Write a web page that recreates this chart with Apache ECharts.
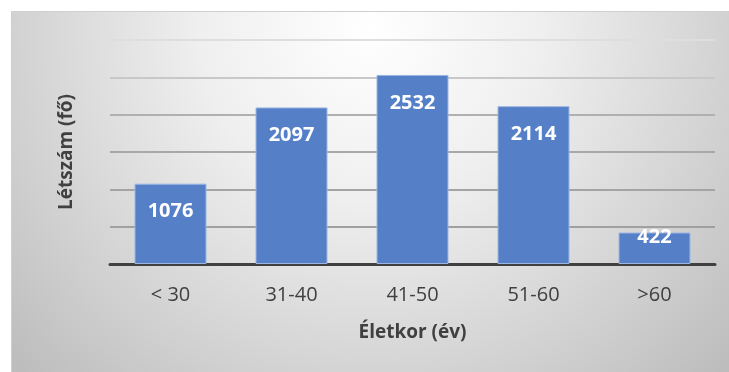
<!DOCTYPE html>
<html>
<head>
<meta charset="utf-8">
<script src="https://cdn.jsdelivr.net/npm/echarts@6/dist/echarts.min.js"></script>
<style>
html,body{margin:0;padding:0;background:#ffffff;}
#chart{width:729px;height:372px;}
</style>
</head>
<body>
<div id="chart"></div>
<script>
const categories = ['< 30', '31-40', '41-50', '51-60', '>60'];
const values = [1076, 2097, 2532, 2114, 422];
const xTitle = 'Életkor (év)';
const yTitle = 'Létszám (fő)';

const font = '"Open Sans", "DejaVu Sans", sans-serif';
const chart = echarts.init(document.getElementById('chart'));

const seriesData = values.map(function (v) {
  const item = { value: v };
  if (v < 600) {
    item.label = { distance: -5 };
  }
  return item;
});

chart.setOption({
  animation: false,
  backgroundColor: '#ffffff',
  graphic: [{
    type: 'rect',
    left: 11, top: 11, z: -10,
    shape: { width: 718, height: 361 },
    style: {
      fill: new echarts.graphic.RadialGradient(0.5, 0.05, 1.35, [
        { offset: 0, color: '#ffffff' },
        { offset: 0.35, color: '#efefef' },
        { offset: 1, color: '#bdbdbd' }
      ]),
      stroke: '#cfcfcf',
      lineWidth: 1
    },
    silent: true
  }],
  grid: { left: 110, right: 14, top: 40, bottom: 108, containLabel: false },
  xAxis: {
    type: 'category',
    data: categories,
    name: xTitle,
    nameLocation: 'middle',
    nameGap: 59,
    nameTextStyle: { fontFamily: font, fontSize: 19, fontWeight: 'bold', color: '#404040' },
    axisLine: { show: true, lineStyle: { color: '#404040', width: 3 } },
    axisTick: { show: false },
    axisLabel: { fontFamily: font, fontSize: 20, color: '#404040', margin: 21 },
    splitLine: { show: false }
  },
  yAxis: {
    type: 'value',
    min: 0, max: 3000, interval: 500,
    name: yTitle,
    nameLocation: 'middle',
    nameGap: 34,
    nameTextStyle: { fontFamily: font, fontSize: 19, fontWeight: 'bold', color: '#404040' },
    axisLine: { show: false },
    axisTick: { show: false },
    axisLabel: { show: false },
    splitLine: {
      show: true,
      lineStyle: {
        width: 2,
        color: ['#a0a0a0', '#a0a0a0', '#a4a4a4', '#a8a8a8', '#b0b0b0', '#c8c8c8', '#dedede']
      }
    }
  },
  series: [{
    type: 'bar',
    data: seriesData,
    barWidth: 72,
    itemStyle: { color: '#5580c8', borderColor: '#9cb6e2', borderWidth: 1 },
    label: {
      show: true,
      position: 'insideTop',
      distance: 18,
      lineHeight: 20,
      fontFamily: font,
      fontSize: 20,
      fontWeight: 'bold',
      color: '#ffffff'
    }
  }]
});
</script>
</body>
</html>
